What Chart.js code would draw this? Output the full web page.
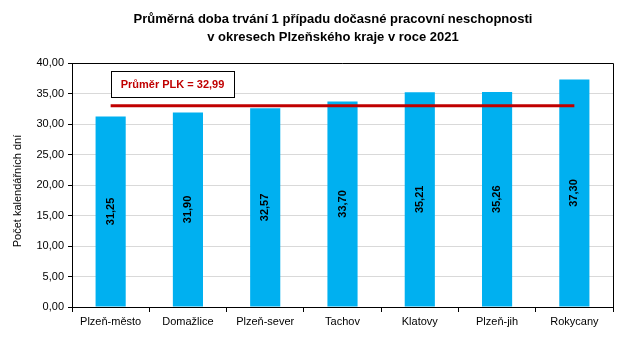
<!DOCTYPE html>
<html>
<head>
<meta charset="utf-8">
<script src="https://cdn.jsdelivr.net/npm/chart.js@4"></script>
<style>
  html, body { margin: 0; padding: 0; background: #fff; }
  #wrap { width: 639px; height: 358px; }
</style>
</head>
<body>
<div id="wrap"><canvas id="chart"></canvas></div>
<script>
const districts = ["Plzeň-město", "Domažlice", "Plzeň-sever", "Tachov", "Klatovy", "Plzeň-jih", "Rokycany"];
const avgDays = [31.25, 31.90, 32.57, 33.70, 35.21, 35.26, 37.30];
const regionAvg = 32.99;
const titleLines = ["Průměrná doba trvání 1 případu dočasné pracovní neschopnosti", "v okresech Plzeňského kraje v roce 2021"];
const yTitle = "Počet kalendářních dní";

const fmt = v => v.toFixed(2).replace(".", ",");
const FONT = "'Liberation Sans', Arial, sans-serif";

const decor = {
  id: "decor",
  afterDraw(chart) {
    const ctx = chart.ctx;
    const a = chart.chartArea;
    ctx.save();
    // title
    ctx.fillStyle = "#000";
    ctx.font = "bold 13px " + FONT;
    ctx.textAlign = "center";
    ctx.textBaseline = "middle";
    ctx.fillText(titleLines[0], 333, 19);
    ctx.fillText(titleLines[1], 333, 37);
    // plot frame top/right
    ctx.strokeStyle = "#000";
    ctx.lineWidth = 1;
    ctx.beginPath();
    ctx.moveTo(a.left, a.top + 0.5);
    ctx.lineTo(a.right + 0.5, a.top + 0.5);
    ctx.lineTo(a.right + 0.5, a.bottom);
    ctx.stroke();
    // y title
    ctx.save();
    ctx.translate(18, 191);
    ctx.rotate(-Math.PI / 2);
    ctx.font = "11px " + FONT;
    ctx.fillText(yTitle, 0, 0);
    ctx.restore();
    // bar value labels
    const meta = chart.getDatasetMeta(0);
    ctx.font = "bold 11px " + FONT;
    meta.data.forEach((bar, i) => {
      ctx.save();
      ctx.translate(bar.x, (bar.y + bar.base) / 2);
      ctx.rotate(-Math.PI / 2);
      ctx.fillText(fmt(avgDays[i]), 0, 0);
      ctx.restore();
    });
    // average label box
    ctx.fillStyle = "#fff";
    ctx.fillRect(111, 71, 123, 26);
    ctx.strokeRect(111.5, 71.5, 123, 26);
    ctx.fillStyle = "#C00000";
    ctx.font = "bold 11px " + FONT;
    ctx.fillText("Průměr PLK = " + fmt(regionAvg), 172.5, 84.5);
    ctx.restore();
  }
};

new Chart(document.getElementById("chart"), {
  type: "bar",
  data: {
    labels: districts,
    datasets: [
      {
        data: avgDays,
        backgroundColor: "#00B0F0",
        barPercentage: 0.39,
        categoryPercentage: 1,
        order: 2
      },
      {
        type: "line",
        data: districts.map(() => regionAvg),
        borderColor: "#C00000",
        borderWidth: 3,
        pointRadius: 0,
        fill: false,
        order: 1
      }
    ]
  },
  options: {
    responsive: true,
    maintainAspectRatio: false,
    animation: false,
    layout: { padding: { top: 63, right: 26, bottom: 26, left: 0 } },
    plugins: {
      legend: { display: false },
      title: { display: false },
      tooltip: { enabled: false }
    },
    scales: {
      x: {
        grid: { drawOnChartArea: false, drawTicks: true, tickLength: 5, color: "#000" },
        border: { color: "#000" },
        ticks: { color: "#000", font: { family: FONT, size: 11 }, padding: 3, maxRotation: 0 },
        afterFit: s => { s.height = 25; }
      },
      y: {
        min: 0,
        max: 40,
        grid: { color: "#D9D9D9", tickColor: "#000", tickLength: 4 },
        border: { color: "#000" },
        ticks: {
          stepSize: 5,
          color: "#000",
          font: { family: FONT, size: 11 },
          padding: 4,
          callback: v => fmt(v)
        },
        afterFit: s => { s.width = 72; }
      }
    }
  },
  plugins: [decor]
});
</script>
</body>
</html>
